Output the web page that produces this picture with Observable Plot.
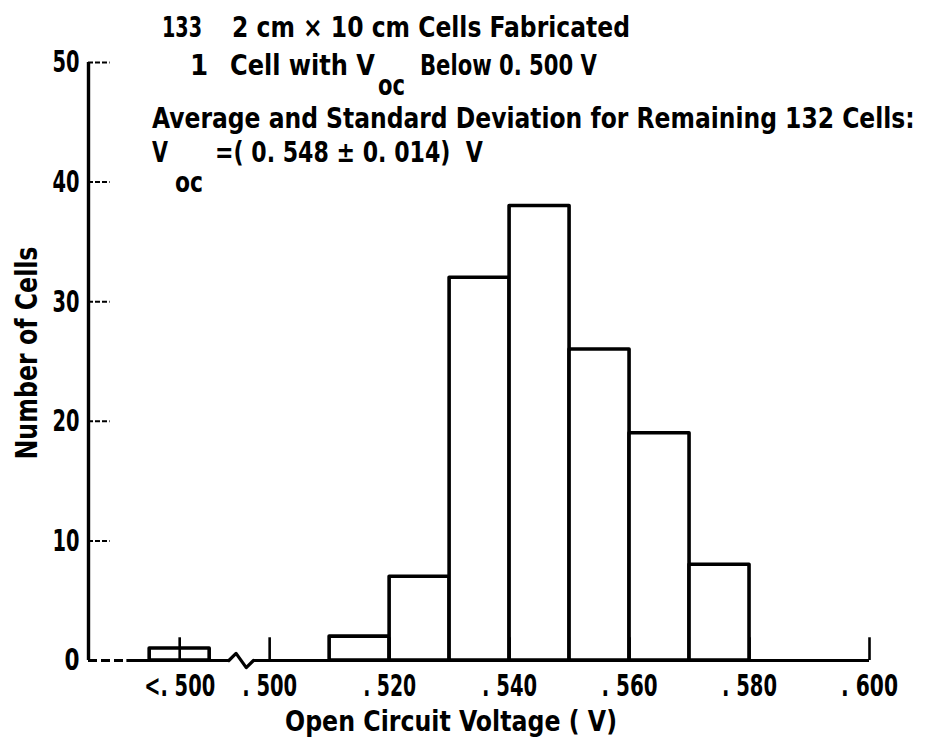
<!DOCTYPE html>
<html>
<head>
<meta charset="utf-8">
<script src="https://cdn.jsdelivr.net/npm/d3@7"></script>
<script src="https://cdn.jsdelivr.net/npm/@observablehq/plot@0.6"></script>
<style>
  html, body { margin: 0; padding: 0; background: #fff; }
  #chart svg { display: block; }
  #chart svg text { font-stretch: condensed; }
</style>
</head>
<body>
<div id="chart"></div>
<script>
// ---- data ----
const binStart = [0.480, 0.510, 0.520, 0.530, 0.540, 0.550, 0.560, 0.570];
const binEnd   = [0.490, 0.520, 0.530, 0.540, 0.550, 0.560, 0.570, 0.580];
const counts   = [1, 2, 7, 32, 38, 26, 19, 8];
const xTickValues = [0.485, 0.500, 0.520, 0.540, 0.560, 0.580, 0.600];
const xTickLabels = ["<. 500", ". 500", ". 520", ". 540", ". 560", ". 580", ". 600"];
const yTickValues = [0, 10, 20, 30, 40, 50];
const xDomain = [0.4698, 0.600];
const yDomain = [0, 50];
const breakX = [0.4932, 0.4944, 0.4961, 0.4973];
const breakY = [0, 0.6, -0.6, 0];
const axisDashEnd = 0.4762;

const bars = binStart.map((s, i) => ({x1: s, x2: binEnd[i], count: counts[i]}));
const breakPts = breakX.map((x, i) => ({x, y: breakY[i]}));

// ---- styling ----
const FONT = "'DejaVu Sans Condensed', 'DejaVu Sans', sans-serif";
const yTickLen = 0.0036; // inward tick length in x units
const xLabelWidths = [71, 55, 53, 55, 56, 55, 57];   // rendered widths of tick labels (px)
const yLabelWidth = s => (s.length === 1 ? 15 : 27);

const plot = Plot.plot({
  width: 927,
  height: 742,
  marginLeft: 88,
  marginRight: 58,
  marginTop: 62,
  marginBottom: 82,
  style: {fontFamily: FONT, fontSize: "31px", fontWeight: "bold", color: "#000", background: "#fff"},
  x: {type: "linear", domain: xDomain},
  y: {type: "linear", domain: yDomain},
  marks: [
    Plot.rectY(bars, {x1: "x1", x2: "x2", y: "count", fill: "#fff", stroke: "#000", strokeWidth: 3.6, strokeLinejoin: "round"}),
    // y axis line and inward ticks
    Plot.ruleX([xDomain[0]], {y1: yDomain[0], y2: yDomain[1], stroke: "#000", strokeWidth: 3.4}),
    Plot.ruleY(yTickValues.filter(d => d > 0), {x1: xDomain[0], x2: xDomain[0] + yTickLen, stroke: "#000", strokeWidth: 2, strokeDasharray: "5,2"}),
    // x axis line (dashed start, break, solid)
    Plot.ruleY([0], {x1: xDomain[0], x2: axisDashEnd, stroke: "#000", strokeWidth: 3, strokeDasharray: "9,4"}),
    Plot.ruleY([0], {x1: axisDashEnd, x2: breakX[0], stroke: "#000", strokeWidth: 3.2}),
    Plot.line(breakPts, {x: "x", y: "y", stroke: "#000", strokeWidth: 3.2}),
    Plot.ruleY([0], {x1: breakX[breakX.length - 1], x2: xDomain[1], stroke: "#000", strokeWidth: 3.2}),
    // inward x ticks
    Plot.ruleX(xTickValues, {y1: 0, y2: 1.9, stroke: "#000", strokeWidth: 2.6}),
    // tick labels
    Plot.axisY({ticks: yTickValues, tickSize: 0, tickPadding: 9, label: null, fontSize: 31}),
    Plot.axisX({ticks: xTickValues, tickFormat: (d) => xTickLabels[xTickValues.indexOf(d)], tickSize: 0, tickPadding: 13, label: null, fontSize: 31})
  ]
});

document.getElementById("chart").appendChild(plot);

const svg = d3.select(plot);

// squeeze a text horizontally (about its anchor) to a target width
function squeeze(el, target) {
  const w = el.getComputedTextLength();
  if (!w || !target) return;
  const sx = target / w;
  let tr = el.getAttribute("transform");
  if (!tr) {
    const x = +el.getAttribute("x") || 0, y = +el.getAttribute("y") || 0;
    el.removeAttribute("x"); el.removeAttribute("y");
    tr = `translate(${x},${y})`;
  }
  el.setAttribute("transform", `${tr} scale(${sx.toFixed(4)},1)`);
}

// condense tick labels to the reference's narrow type
svg.selectAll('g[aria-label="x-axis tick label"] text').each(function () {
  const i = xTickLabels.indexOf(this.textContent);
  if (i >= 0) squeeze(this, xLabelWidths[i]);
});
svg.selectAll('g[aria-label="y-axis tick label"] text').each(function () {
  squeeze(this, yLabelWidth(this.textContent));
});

// ---- annotations ----
const g = svg.append("g")
  .attr("font-family", FONT)
  .attr("font-weight", "bold")
  .attr("font-size", 29)
  .attr("text-anchor", "start")
  .attr("fill", "#000");

function txt(x, y, s, w, opts = {}) {
  const t = g.append("text").attr("transform", `translate(${x},${y})`).text(s);
  if (opts.size) t.attr("font-size", opts.size);
  if (opts.anchor) t.attr("text-anchor", opts.anchor);
  if (opts.rotate) t.attr("transform", `translate(${x},${y}) rotate(${opts.rotate})`);
  if (w) squeeze(t.node(), w);
  return t;
}

// header lines
txt(162, 37, "133", 40);
txt(232, 37, "2 cm \u00D7 10 cm Cells Fabricated", 398);

txt(190, 75, "1");
txt(230, 75, "Cell with V", 145);
txt(378, 95, "oc", 27);
txt(420, 75, "Below 0. 500 V", 177);

txt(152, 128, "Average and Standard Deviation for Remaining 132 Cells:", 763);

txt(152, 162, "V", 16);
txt(175, 192, "oc", 28);
txt(215, 162, "=( 0. 548 \u00B1 0. 014)  V", 268);

// axis titles
txt(37, 353, "Number of Cells", 213, {size: 30, anchor: "middle", rotate: -90});
txt(451, 731, "Open Circuit Voltage ( V)", 332, {size: 29, anchor: "middle"});
</script>
</body>
</html>
